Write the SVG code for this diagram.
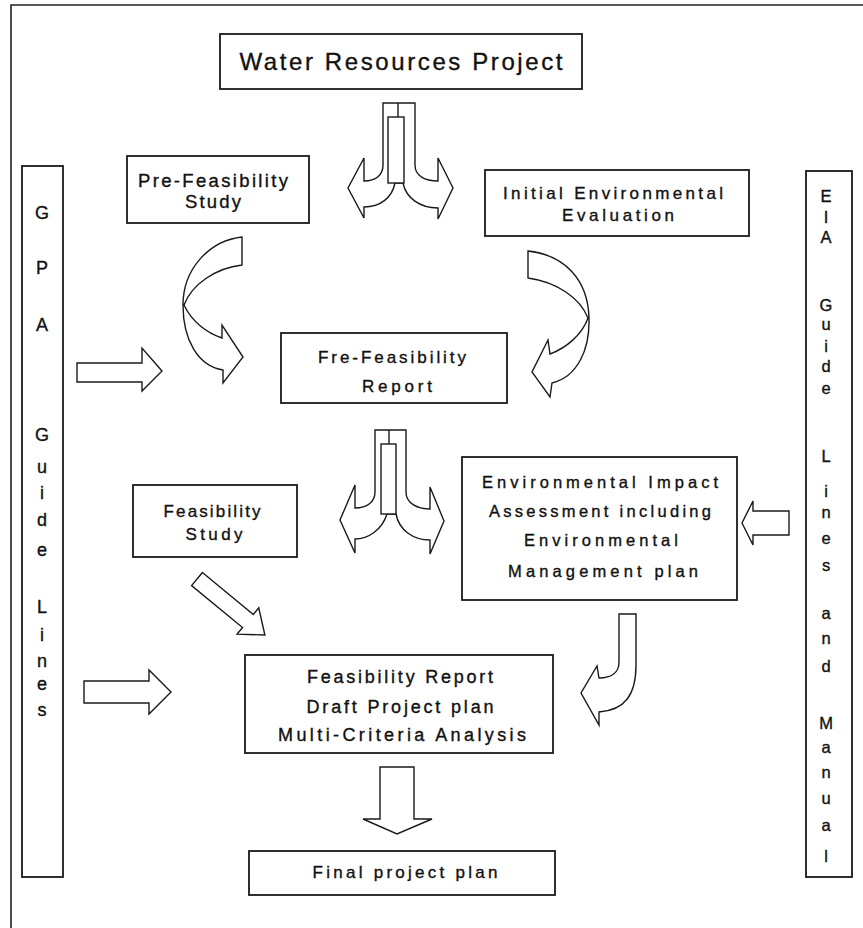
<svg xmlns="http://www.w3.org/2000/svg" width="863" height="928" viewBox="0 0 863 928">
<style>
.bg{fill:#ffffff}
.frame{fill:none;stroke:#222;stroke-width:1.6}
.box{fill:#ffffff;stroke:#1a1a1a;stroke-width:1.8}
.arw{fill:#ffffff;stroke:#1a1a1a;stroke-width:1.4;stroke-linejoin:miter}
.ln{fill:none;stroke:#1a1a1a;stroke-width:1.4}
text{font-family:"Liberation Sans","DejaVu Sans",Arial,sans-serif;fill:#111;stroke:#111;stroke-width:0.35;text-anchor:middle}
.t24{font-size:24px}
.t19{font-size:18.5px}
.t18{font-size:18px}
.t17{font-size:17px}
.t16{font-size:16.5px}
.v{font-size:18px;dominant-baseline:central}
.ve{font-size:16.5px;dominant-baseline:central}
</style>
<rect class="bg" x="0" y="0" width="863" height="928"/>
<path class="frame" d="M11,928 L11,5 L863,5"/>

<g id="connectors">
  <!-- top split arrow -->
  <path class="arw" d="M383,103 L415,103 L415,165 C415,176 425,181 438,181 L438,158 L453,188 L438,219 L438,208 C420,208 406,198 403,183 L395,183 C392,198 380,207 364,207 L364,218 L348,188 L364,158 L364,181 C376,181 383,175 383,165 Z"/>
  <rect class="arw" x="388" y="117" width="16" height="66"/>
  <line class="ln" x1="398" y1="103" x2="398" y2="117"/>
  <!-- left curved arrow -->
  <path class="arw" d="M242,237 L242,265 C216,268 192,284 184,305 C192,322 207,333 222,338 L222,325 L243,357 L223,383 L223,370 C198,366 183,340 183,305 C183,270 208,241 242,237 Z"/>
  <!-- right curved arrow -->
  <path class="arw" d="M528,251 L528,278 C557,282 580,298 588,318 C582,335 566,348 550,354 L548,340 L532,372 L550,397 L552,383 C577,377 590,350 589,318 C588,280 565,255 528,251 Z"/>
  <!-- GPA to Fre-Feasibility report -->
  <path class="arw" d="M77,363 L142,363 L142,348 L162,371 L142,391 L142,382 L77,382 Z"/>
  <!-- middle split arrow -->
  <path class="arw" d="M375,430 L406,430 L406,492 C406,503 417,509 430,509 L430,487 L444,521 L430,554 L430,540 C413,540 399,530 396,514 L387,514 C382,530 368,539 355,539 L355,553 L340,520 L355,485 L355,508 C367,508 375,502 375,492 Z"/>
  <rect class="arw" x="381" y="444" width="15" height="70"/>
  <line class="ln" x1="389" y1="430" x2="389" y2="444"/>
  <!-- EIA guide lines to EIA box -->
  <path class="arw" d="M789,511 L789,535 L753,535 L753,545 L742,523 L753,501 L753,511 Z"/>
  <!-- Feasibility study diagonal arrow -->
  <path class="arw" transform="translate(197,579) rotate(39.5)" d="M0,-8.5 L66,-8.5 L66,-17 L88,0 L66,17 L66,8.5 L0,8.5 Z"/>
  <!-- J arrow from EIA box to Feasibility report -->
  <path class="arw" d="M619,614 L636,614 L636,665 C636,695 625,710 599,712 L599,725 L581,693 L597,666 L599,678 C612,678 619,672 619,662 Z"/>
  <!-- GPA to Feasibility report -->
  <path class="arw" d="M84,681 L149,681 L149,670 L171,692 L149,714 L149,703 L84,703 Z"/>
  <!-- down arrow to final plan -->
  <path class="arw" d="M380,767 L414,767 L414,819 L432,819 L397,834 L363,819 L380,819 Z"/>
</g>

<g id="node-water">
  <rect class="box" x="220" y="34" width="362" height="55"/>
  <text class="t24" x="401" y="70" textLength="323" lengthAdjust="spacing">Water Resources Project</text>
</g>
<g id="node-prefeas-study">
  <rect class="box" x="127" y="156" width="182" height="67"/>
  <text class="t19" x="213" y="187" textLength="150" lengthAdjust="spacing">Pre-Feasibility</text>
  <text class="t19" x="213" y="208" textLength="56" lengthAdjust="spacing">Study</text>
</g>
<g id="node-initial-env">
  <rect class="box" x="485" y="170" width="264" height="66"/>
  <text class="t17" x="613" y="199" textLength="220" lengthAdjust="spacing">Initial Environmental</text>
  <text class="t17" x="618" y="221" textLength="112" lengthAdjust="spacing">Evaluation</text>
</g>
<g id="node-fre-feas-report">
  <rect class="box" x="281" y="333" width="226" height="70"/>
  <text class="t17" x="392" y="363" textLength="148" lengthAdjust="spacing">Fre-Feasibility</text>
  <text class="t17" x="397" y="392" textLength="70" lengthAdjust="spacing">Report</text>
</g>
<g id="node-feas-study">
  <rect class="box" x="133" y="485" width="164" height="72"/>
  <text class="t17" x="212" y="517" textLength="97" lengthAdjust="spacing">Feasibility</text>
  <text class="t17" x="214" y="540" textLength="57" lengthAdjust="spacing">Study</text>
</g>
<g id="node-eia">
  <rect class="box" x="462" y="457" width="275" height="143"/>
  <text class="t16" x="600" y="488" textLength="236" lengthAdjust="spacing">Environmental Impact</text>
  <text class="t16" x="600" y="517" textLength="222" lengthAdjust="spacing">Assessment including</text>
  <text class="t16" x="601" y="546" textLength="154" lengthAdjust="spacing">Environmental</text>
  <text class="t16" x="603" y="577" textLength="190" lengthAdjust="spacing">Management plan</text>
</g>
<g id="node-feas-report">
  <rect class="box" x="245" y="655" width="308" height="98"/>
  <text class="t18" x="400" y="683" textLength="186" lengthAdjust="spacing">Feasibility Report</text>
  <text class="t18" x="400" y="713" textLength="187" lengthAdjust="spacing">Draft Project plan</text>
  <text class="t18" x="402" y="741" textLength="248" lengthAdjust="spacing">Multi-Criteria Analysis</text>
</g>
<g id="node-final">
  <rect class="box" x="249" y="851" width="306" height="44"/>
  <text class="t17" x="405" y="878" textLength="185" lengthAdjust="spacing">Final project plan</text>
</g>
<g id="node-gpa">
  <rect class="box" x="22" y="166" width="41" height="711"/>
  <text class="v" x="42" y="213">G</text>
  <text class="v" x="42" y="268">P</text>
  <text class="v" x="42" y="325">A</text>
  <text class="v" x="42" y="435">G</text>
  <text class="v" x="42" y="467">u</text>
  <text class="v" x="42" y="493">i</text>
  <text class="v" x="42" y="520">d</text>
  <text class="v" x="42" y="550">e</text>
  <text class="v" x="42" y="607">L</text>
  <text class="v" x="42" y="635">i</text>
  <text class="v" x="42" y="661">n</text>
  <text class="v" x="42" y="684">e</text>
  <text class="v" x="42" y="710">s</text>
</g>
<g id="node-eia-guide">
  <rect class="box" x="806" y="171" width="46" height="706"/>
  <text class="ve" x="826" y="196">E</text>
  <text class="ve" x="826" y="217">I</text>
  <text class="ve" x="826" y="237">A</text>
  <text class="ve" x="826" y="305">G</text>
  <text class="ve" x="826" y="324">u</text>
  <text class="ve" x="826" y="346">i</text>
  <text class="ve" x="826" y="366">d</text>
  <text class="ve" x="826" y="388">e</text>
  <text class="ve" x="826" y="456">L</text>
  <text class="ve" x="826" y="491">i</text>
  <text class="ve" x="826" y="512">n</text>
  <text class="ve" x="826" y="538">e</text>
  <text class="ve" x="826" y="565">s</text>
  <text class="ve" x="826" y="613">a</text>
  <text class="ve" x="826" y="638">n</text>
  <text class="ve" x="826" y="666">d</text>
  <text class="ve" x="826" y="723">M</text>
  <text class="ve" x="826" y="747">a</text>
  <text class="ve" x="826" y="772">n</text>
  <text class="ve" x="826" y="798">u</text>
  <text class="ve" x="826" y="825">a</text>
  <text class="ve" x="826" y="856">l</text>
</g>
</svg>
